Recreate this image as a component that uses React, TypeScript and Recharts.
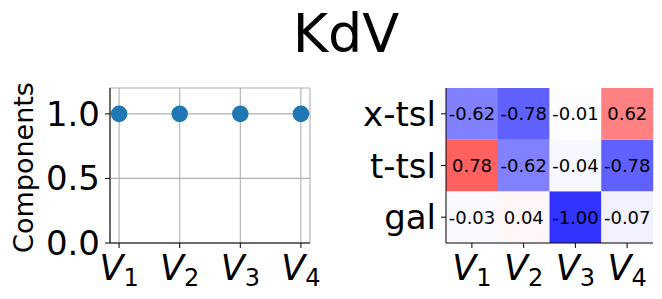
import React from "react";
import {
  ScatterChart,
  Scatter,
  BarChart,
  Bar,
  Cell,
  LabelList,
  XAxis,
  YAxis,
  CartesianGrid,
} from "recharts";

const FONT = "DejaVu Sans";

// left panel
const VAR_SUBS = ["1", "2", "3", "4"];
const VAR_POS = [0, 1, 2, 3];
const COMPONENTS = [1, 1, 1, 1];
const Y_TICKS = [0, 0.5, 1.0];

// right panel (correlation heatmap), rows top -> bottom
const ROW_LABELS = ["x-tsl", "t-tsl", "gal"];
const X_TSL = [-0.62, -0.78, -0.01, 0.62];
const T_TSL = [0.78, -0.62, -0.04, -0.78];
const GAL = [-0.03, 0.04, -1.0, -0.07];

// bwr colormap at alpha 0.8 over white
function bwr(v: number) {
  const a = 0.8;
  let r = 1,
    g = 1,
    b = 1;
  if (v < 0) {
    r = g = 1 + v;
  } else {
    g = b = 1 - v;
  }
  const mix = (c: number) => Math.round((a * c + (1 - a)) * 255);
  return `rgb(${mix(r)},${mix(g)},${mix(b)})`;
}

function VTick(props: any) {
  const { x, y, payload } = props;
  const sub = VAR_SUBS[payload.index] ?? "";
  return (
    <text x={x} y={y + 27} textAnchor="middle" fontFamily={FONT} fill="#000">
      <tspan fontStyle="italic" fontSize={35}>
        V
      </tspan>
      <tspan fontSize={24} dy={6}>
        {sub}
      </tspan>
    </text>
  );
}

const scatterData = VAR_POS.map((p, i) => ({ x: p, y: COMPONENTS[i] }));

const heatData = VAR_SUBS.map((s, i) => ({
  col: "V" + s,
  gal: 1,
  tt: 1,
  xt: 1,
  galV: GAL[i],
  ttV: T_TSL[i],
  xtV: X_TSL[i],
}));

const cellLabel = {
  position: "center" as const,
  fill: "#000",
  fontSize: 18,
  fontFamily: FONT,
  formatter: (v: any) => Number(v).toFixed(2),
};

const axisTick = { fontSize: 34, fill: "#000", fontFamily: FONT };

export default function App() {
  return (
    <div
      style={{
        position: "relative",
        width: 662,
        height: 299,
        background: "#fff",
        margin: -8,
        fontFamily: FONT,
      }}
    >
      <svg
        width={662}
        height={70}
        style={{ position: "absolute", left: 0, top: 0 }}
      >
        <text x={346} y={52} textAnchor="middle" fontSize={54} fontFamily={FONT} fill="#000">
          KdV
        </text>
      </svg>

      <div style={{ position: "absolute", left: 0, top: 0 }}>
        <ScatterChart
          width={330}
          height={299}
          margin={{ top: 88, right: 20, bottom: 16, left: 50 }}
        >
          <CartesianGrid stroke="#b0b0b0" strokeWidth={1.1} />
          <XAxis
            dataKey="x"
            type="number"
            domain={[-0.15, 3.15]}
            ticks={VAR_POS}
            tick={<VTick />}
            tickSize={5}
            tickMargin={5}
            height={40}
            interval={0}
            stroke="#000"
            allowDataOverflow
          />
          <XAxis
            xAxisId="top"
            orientation="top"
            type="number"
            domain={[-0.15, 3.15]}
            tick={false}
            tickLine={false}
            height={0}
            stroke="#000"
          />
          <YAxis
            dataKey="y"
            type="number"
            domain={[0, 1.2]}
            ticks={Y_TICKS}
            tickFormatter={(v) => Number(v).toFixed(1)}
            tick={axisTick}
            tickSize={5}
            tickMargin={5}
            width={60}
            interval={0}
            stroke="#000"
            allowDataOverflow
            label={(p: any) => {
              const vb = p.viewBox;
              const cx = vb.x - 27;
              const cy = vb.y + vb.height / 2 + 2;
              return (
                <text
                  x={cx}
                  y={cy}
                  transform={`rotate(-90, ${cx}, ${cy})`}
                  textAnchor="middle"
                  dominantBaseline="central"
                  fontSize={27}
                  fontFamily={FONT}
                  fill="#000"
                >
                  Components
                </text>
              );
            }}
          />
          <YAxis
            yAxisId="right"
            orientation="right"
            domain={[0, 1.2]}
            tick={false}
            tickLine={false}
            width={0}
            stroke="#000"
          />
          <Scatter
            data={scatterData}
            fill="#1f77b4"
            isAnimationActive={false}
            shape={(p: any) => <circle cx={p.cx} cy={p.cy} r={8.3} fill="#1f77b4" />}
          />
        </ScatterChart>
      </div>

      <div style={{ position: "absolute", left: 330, top: 0 }}>
        <BarChart
          width={332}
          height={299}
          data={heatData}
          margin={{ top: 88, right: 9, bottom: 16, left: 56 }}
          barCategoryGap={0}
          barGap={0}
        >
          <XAxis
            dataKey="col"
            tick={<VTick />}
            tickSize={5}
            tickMargin={5}
            height={40}
            interval={0}
            stroke="#000"
          />
          <XAxis xAxisId="top" orientation="top" dataKey="col" tick={false} tickLine={false} height={0} stroke="#000" />
          <YAxis
            type="number"
            domain={[0, 3]}
            ticks={[0.5, 1.5, 2.5]}
            tickFormatter={(v) => ROW_LABELS[2 - Math.floor(Number(v))]}
            tick={axisTick}
            tickSize={5}
            tickMargin={5}
            width={60}
            interval={0}
            stroke="#000"
          />
          <YAxis yAxisId="right" orientation="right" domain={[0, 3]} tick={false} tickLine={false} width={0} stroke="#000" />
          <Bar dataKey="gal" stackId="h" isAnimationActive={false}>
            {heatData.map((d, i) => (
              <Cell key={i} fill={bwr(d.galV)} />
            ))}
            <LabelList dataKey="galV" {...cellLabel} />
          </Bar>
          <Bar dataKey="tt" stackId="h" isAnimationActive={false}>
            {heatData.map((d, i) => (
              <Cell key={i} fill={bwr(d.ttV)} />
            ))}
            <LabelList dataKey="ttV" {...cellLabel} />
          </Bar>
          <Bar dataKey="xt" stackId="h" isAnimationActive={false}>
            {heatData.map((d, i) => (
              <Cell key={i} fill={bwr(d.xtV)} />
            ))}
            <LabelList dataKey="xtV" {...cellLabel} />
          </Bar>
        </BarChart>
      </div>
    </div>
  );
}
